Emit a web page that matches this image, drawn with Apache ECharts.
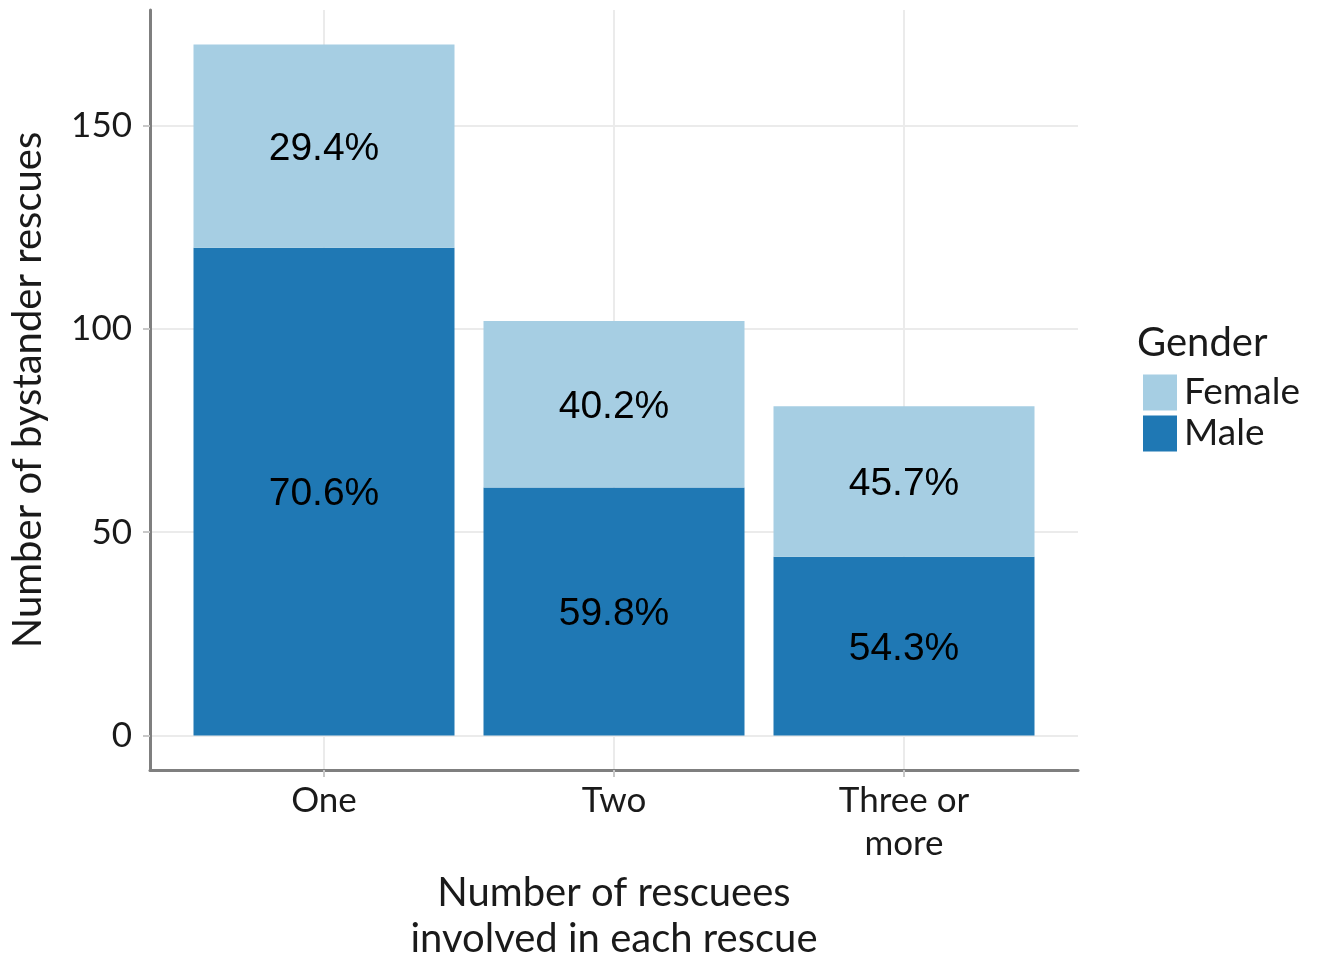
<!DOCTYPE html>
<html>
<head>
<meta charset="utf-8">
<script src="https://cdn.jsdelivr.net/npm/echarts@6/dist/echarts.min.js"></script>
<style>
html,body{margin:0;padding:0;background:#fff;overflow:hidden;}
#chart{width:1320px;height:953px;}
</style>
</head>
<body>
<div id="chart"></div>
<script>
// ---- data ----
const categories = ['One', 'Two', 'Three or\nmore'];
const categoryPos = [1, 2, 3];
const maleCounts = [120, 61, 44];
const femaleCounts = [50, 41, 37];
const malePctLabels = ['70.6%', '59.8%', '54.3%'];
const femalePctLabels = ['29.4%', '40.2%', '45.7%'];
const yTicks = [0, 50, 100, 150];

const axisFont = 'Lato';
const chart = echarts.init(document.getElementById('chart'), null, {renderer: 'canvas'});

// [count, position] so that the count dimension is the one that gets stacked
const maleData = categoryPos.map((p, i) => [maleCounts[i], p]);
const femaleData = categoryPos.map((p, i) => [femaleCounts[i], p]);

const barLabel = (labels) => ({
  show: true, position: 'inside', offset: [0, 3],
  formatter: p => labels[p.dataIndex],
  fontFamily: 'Liberation Sans', fontSize: 39, color: '#000'
});

const option = {
  backgroundColor: '#fff',
  animation: false,
  color: ['#1f78b4', '#a6cee3'],
  title: {
    text: 'Gender',
    left: 1137, top: 323, padding: 0,
    textStyle: {fontFamily: axisFont, fontSize: 40, fontWeight: 'normal', color: '#1a1a1a'}
  },
  legend: {
    data: ['Female', 'Male'],
    orient: 'vertical',
    left: 1143, top: 374, padding: 0,
    itemWidth: 34, itemHeight: 36, itemGap: 4,
    icon: 'rect',
    textStyle: {fontFamily: axisFont, fontSize: 37, color: '#1a1a1a', padding: [0, 0, 0, 2]}
  },
  grid: {left: 150, right: 242, top: 10, bottom: 183, containLabel: false, outerBoundsMode: 'none'},
  xAxis: {
    type: 'value',
    min: 0.4, max: 3.6,
    name: 'Number of rescuees\ninvolved in each rescue',
    nameLocation: 'middle',
    nameGap: 95,
    nameTextStyle: {fontFamily: axisFont, fontSize: 40, color: '#1a1a1a', lineHeight: 46},
    axisLine: {show: true, onZero: false, lineStyle: {color: '#7f7f7f', width: 3}},
    axisTick: {show: true, customValues: categoryPos, length: 7, lineStyle: {color: '#c8c8c8', width: 2}},
    axisLabel: {
      customValues: categoryPos,
      formatter: v => categories[Math.round(v) - 1] || '',
      fontFamily: axisFont, fontSize: 35, color: '#1a1a1a', lineHeight: 43, margin: 9
    },
    splitLine: {show: true, lineStyle: {color: '#ebebeb', width: 2}}
  },
  yAxis: {
    type: 'value',
    min: -8.5, max: 178.5,
    name: 'Number of bystander rescues',
    nameLocation: 'middle',
    nameGap: 102,
    nameTextStyle: {fontFamily: axisFont, fontSize: 40, color: '#1a1a1a'},
    axisLine: {show: true, onZero: false, lineStyle: {color: '#7f7f7f', width: 3}},
    axisTick: {show: true, customValues: yTicks, length: 7, lineStyle: {color: '#c8c8c8', width: 2}},
    axisLabel: {customValues: yTicks, fontFamily: axisFont, fontSize: 35, color: '#1a1a1a', margin: 18},
    splitLine: {show: true, lineStyle: {color: '#ebebeb', width: 2}}
  },
  series: [
    {
      name: 'Male', type: 'bar', stack: 'total', barWidth: '90%',
      dimensions: ['count', 'pos'],
      encode: {x: 'pos', y: 'count'},
      data: maleData,
      itemStyle: {color: '#1f78b4'},
      label: barLabel(malePctLabels)
    },
    {
      name: 'Female', type: 'bar', stack: 'total', barWidth: '90%',
      dimensions: ['count', 'pos'],
      encode: {x: 'pos', y: 'count'},
      data: femaleData,
      itemStyle: {color: '#a6cee3'},
      label: barLabel(femalePctLabels)
    }
  ]
};
chart.setOption(option);
</script>
</body>
</html>
